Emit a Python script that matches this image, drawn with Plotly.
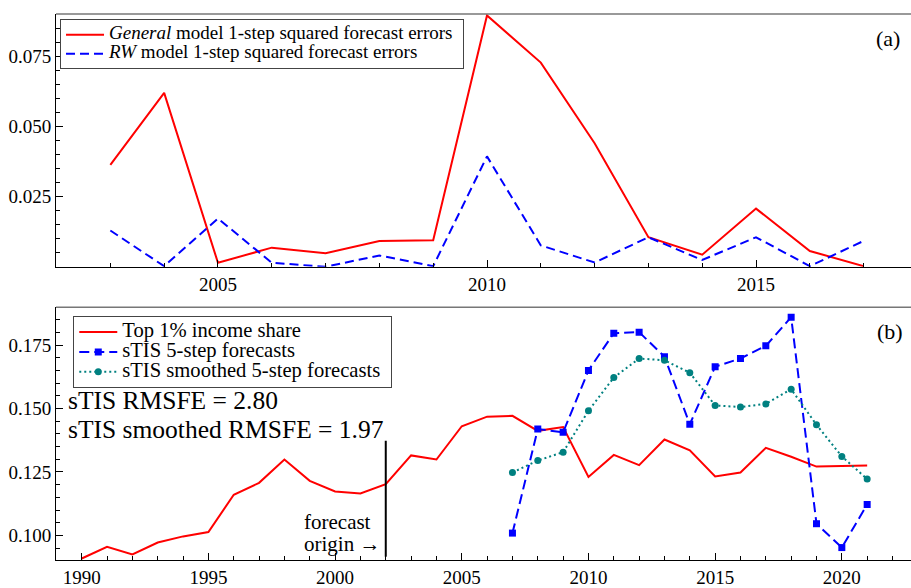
import plotly.graph_objects as go

# ---------------- data ----------------
years_a = list(range(2003, 2018))
general_sq_err = [0.0363, 0.0619, 0.0014, 0.0068, 0.0048, 0.0092, 0.0094, 0.0895,
                  0.0727, 0.0440, 0.0105, 0.0043, 0.0207, 0.0056, 0.0002]
rw_sq_err = [0.0129, 0.0002, 0.0172, 0.0014, 0.0000, 0.0040, 0.0002, 0.0393,
             0.0076, 0.0015, 0.0105, 0.0024, 0.0105, 0.0002, 0.0092]

years_b = list(range(1990, 2022))
top1_share = [0.0909, 0.0955, 0.0925, 0.0972, 0.0996, 0.1013, 0.1160, 0.1207,
              0.1299, 0.1215, 0.1173, 0.1165, 0.1202, 0.1315, 0.1299, 0.1430,
              0.1468, 0.1471, 0.1412, 0.1427, 0.1230, 0.1317, 0.1277, 0.1378,
              0.1335, 0.1232, 0.1248, 0.1345, 0.1310, 0.1271, 0.1273, 0.1275]

years_fc = list(range(2007, 2022))
stis_fc = [0.1009, 0.1419, 0.1406, 0.1650, 0.1797, 0.1801, 0.1704, 0.1438,
           0.1665, 0.1697, 0.1747, 0.1860, 0.1046, 0.0952, 0.1122]
stis_smooth_fc = [0.1248, 0.1295, 0.1328, 0.1491, 0.1622, 0.1697, 0.1690, 0.1641,
                  0.1512, 0.1506, 0.1518, 0.1576, 0.1436, 0.1311, 0.1222]

origin_year = 2002
origin_line_y = [0.0916, 0.1373]

ticks_a_x = [2005, 2010, 2015]
ticks_a_y = [0.025, 0.050, 0.075]
ticks_b_x = [1990, 1995, 2000, 2005, 2010, 2015, 2020]
ticks_b_y = [0.100, 0.125, 0.150, 0.175]

FONT = "Liberation Serif, Times New Roman, serif"
RED = "#ff0000"
BLUE = "#0000ff"
TEAL = "#008080"


def big(txt, size):
    return '<span style="font-size:%spx">%s</span>' % (size, txt)


PAD = "&nbsp;"

fig = go.Figure()

# ---- panel (a)
fig.add_trace(go.Scatter(
    x=years_a, y=general_sq_err, mode="lines",
    line=dict(color=RED, width=2),
    name=big("<i>General</i> model 1-step squared forecast errors" + PAD, 19),
    xaxis="x", yaxis="y", legend="legend"))
fig.add_trace(go.Scatter(
    x=years_a, y=rw_sq_err, mode="lines",
    line=dict(color=BLUE, width=2, dash="9px,5px"),
    name=big("<i>RW</i> model 1-step squared forecast errors" + PAD, 19),
    xaxis="x", yaxis="y", legend="legend"))

# ---- panel (b)
fig.add_trace(go.Scatter(
    x=years_b, y=top1_share, mode="lines",
    line=dict(color=RED, width=2),
    name=big("Top 1% income share", 20.6),
    xaxis="x2", yaxis="y2", legend="legend2"))
fig.add_trace(go.Scatter(
    x=years_fc, y=stis_fc, mode="lines+markers",
    line=dict(color=BLUE, width=2, dash="10px,5px"),
    marker=dict(symbol="square", size=7, color=BLUE),
    name=big("sTIS 5-step forecasts", 20.6),
    xaxis="x2", yaxis="y2", legend="legend2"))
fig.add_trace(go.Scatter(
    x=years_fc, y=stis_smooth_fc, mode="lines+markers",
    line=dict(color=TEAL, width=2, dash="2px,3px"),
    marker=dict(symbol="circle", size=7, color=TEAL),
    name=big("sTIS smoothed 5-step forecasts" + "&nbsp;", 20.6),
    xaxis="x2", yaxis="y2", legend="legend2"))
fig.add_trace(go.Scatter(
    x=[origin_year, origin_year], y=origin_line_y, mode="lines",
    line=dict(color="black", width=2), showlegend=False,
    xaxis="x2", yaxis="y2", hoverinfo="skip"))

axis_common = dict(
    showline=True, linecolor="black", linewidth=1, showgrid=False, zeroline=False,
    ticks="inside", ticklen=7, tickcolor="black", tickwidth=1,
    tickfont=dict(family=FONT, size=19, color="black"),
)

fig.update_layout(
    width=911, height=588,
    margin=dict(l=56, r=0, t=14, b=21),
    paper_bgcolor="white", plot_bgcolor="white",
    font=dict(family=FONT, color="black"),
    xaxis=dict(domain=[0, 1], anchor="y", range=[2001.99, 2017.88],
               tickmode="array", tickvals=ticks_a_x,
               minor=dict(tickmode="linear", tick0=2000, dtick=1, ticks="inside",
                          ticklen=4, tickcolor="black"),
               **axis_common),
    yaxis=dict(domain=[0.5371, 1], anchor="x", range=[0, 0.0900],
               tickmode="array", tickvals=ticks_a_y, tickformat=".3f",
               minor=dict(tickmode="linear", tick0=0, dtick=0.005, ticks="inside",
                          ticklen=4, tickcolor="black"),
               **axis_common),
    xaxis2=dict(domain=[0, 1], anchor="y2", range=[1988.985, 2022.73],
                tickmode="array", tickvals=ticks_b_x,
                minor=dict(tickmode="linear", tick0=1990, dtick=1, ticks="inside",
                           ticklen=4, tickcolor="black"),
                **axis_common),
    yaxis2=dict(domain=[0, 0.4629], anchor="x2", range=[0.0903, 0.1899],
                tickmode="array", tickvals=ticks_b_y, tickformat=".3f",
                minor=dict(tickmode="linear", tick0=0, dtick=0.005, ticks="inside",
                           ticklen=4, tickcolor="black"),
                **axis_common),
    legend=dict(x=0.0047, y=0.9904, xanchor="left", yanchor="top",
                bgcolor="white", bordercolor="#444", borderwidth=1,
                font=dict(family=FONT, size=12, color="black"),
                itemwidth=38, tracegroupgap=0),
    legend2=dict(x=0.0202, y=0.4467, xanchor="left", yanchor="top",
                 bgcolor="white", bordercolor="#444", borderwidth=1,
                 font=dict(family=FONT, size=13, color="black"),
                 itemwidth=38, tracegroupgap=0),
    showlegend=True,
)

# top border lines of the frames
for xr, yr in [("x domain", "y domain"), ("x2 domain", "y2 domain")]:
    fig.add_shape(type="line", xref=xr, yref=yr, x0=0, x1=1, y0=1, y1=1,
                  line=dict(color="#777", width=1.5))

ann = []
ann.append(dict(xref="x domain", yref="y domain", x=0.990, y=0.905,
                xanchor="right", yanchor="middle", text="(a)", showarrow=False,
                font=dict(family=FONT, size=22, color="black")))
ann.append(dict(xref="x2 domain", yref="y2 domain", x=0.993, y=0.905,
                xanchor="right", yanchor="middle", text="(b)", showarrow=False,
                font=dict(family=FONT, size=22, color="black")))
# one text block, tight line spacing (line height from the base font)
ann.append(dict(xref="x2 domain", yref="y2", x=0.0113, y=0.1473,
                xanchor="left", yanchor="middle", align="left",
                text=big("sTIS RMSFE = 2.80", 25.5) + "<br>" + big("sTIS smoothed RMSFE = 1.97", 25.5),
                showarrow=False, font=dict(family=FONT, size=22, color="black")))
ann.append(dict(xref="x2", yref="y2", x=1998.71, y=0.1010,
                xanchor="left", yanchor="middle", align="left",
                text=big("forecast", 21) + "<br>" + big("origin \u2192", 21),
                showarrow=False, font=dict(family=FONT, size=16.7, color="black")))
fig.update_layout(annotations=ann)

fig.write_html("out.html")
